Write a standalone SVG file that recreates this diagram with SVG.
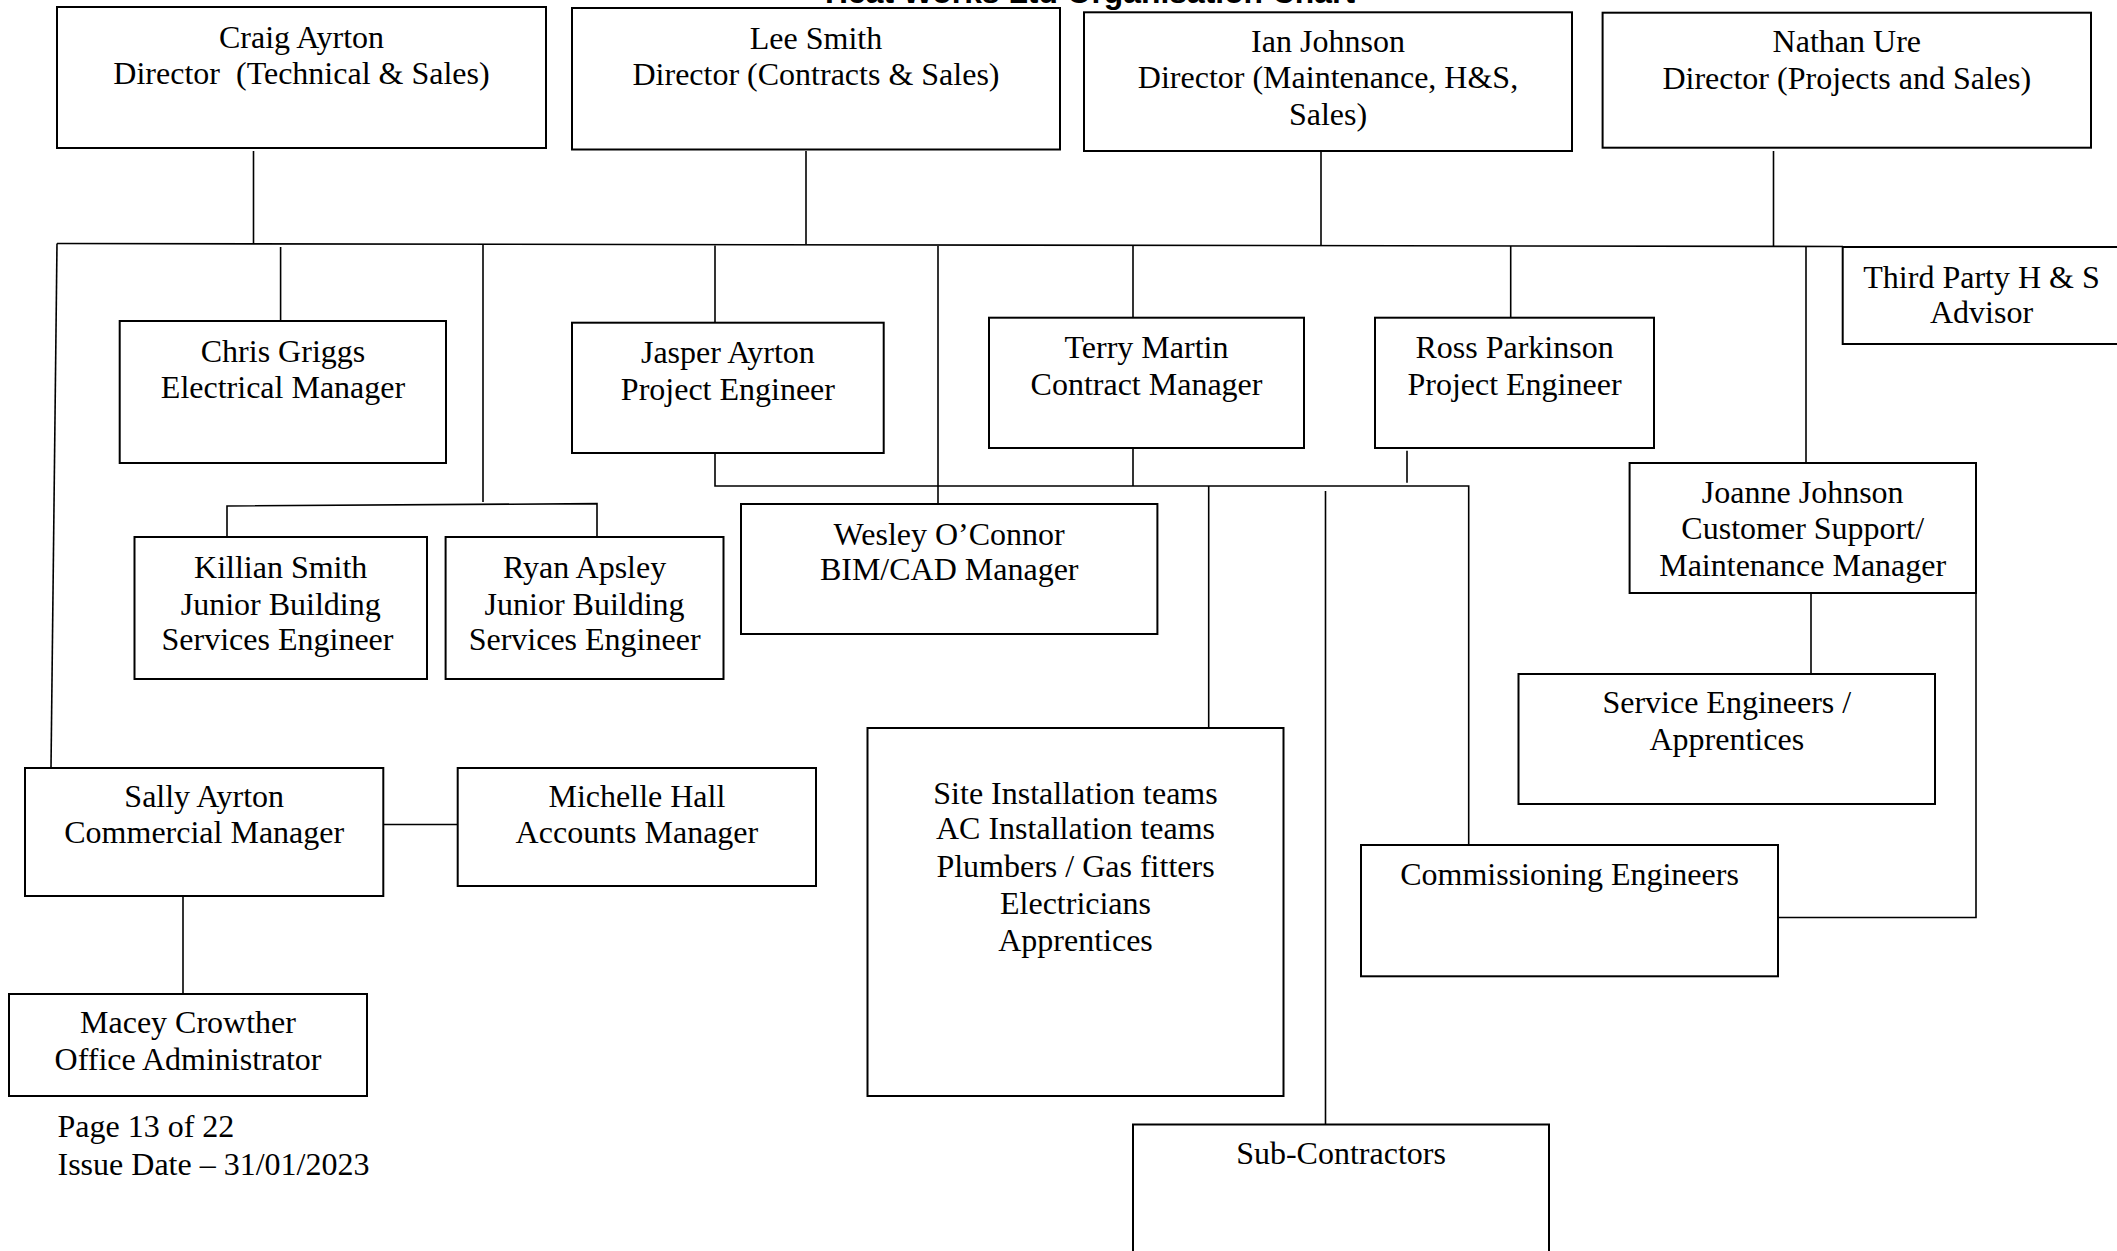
<svg xmlns="http://www.w3.org/2000/svg" width="2117" height="1251" viewBox="0 0 2117 1251">
<style>
.box{fill:#fff;stroke:#000;stroke-width:2}
.ln{fill:none;stroke:#000;stroke-width:1.6}
.t{font-family:"Liberation Serif","Times New Roman",serif;font-size:32px;text-anchor:middle;fill:#000}
.l{text-anchor:start}
.title{font-family:"Liberation Sans",Arial,sans-serif;font-weight:bold;font-size:32px;fill:#000}
</style>
<rect width="2117" height="1251" fill="#fff"/>
<text class="title" x="825" y="3" textLength="530" lengthAdjust="spacingAndGlyphs">Heat Works Ltd Organisation Chart</text>
<g id="connectors">
<path class="ln" d="M57,243.5 L1843,246.5"/>
<path class="ln" d="M57,243.5 L51,768"/>
<path class="ln" d="M253.5,151 V243"/>
<path class="ln" d="M806,151 V244"/>
<path class="ln" d="M1321,152 V245"/>
<path class="ln" d="M1773.5,151 V246"/>
<path class="ln" d="M280.6,247 V321"/>
<path class="ln" d="M483,245 V502"/>
<path class="ln" d="M227,537 V506 L597,503.6 V537"/>
<path class="ln" d="M715,245.5 V322.7"/>
<path class="ln" d="M715,453 V486 H1468.7 V845"/>
<path class="ln" d="M938,246 V504"/>
<path class="ln" d="M1133,246 V317.7"/>
<path class="ln" d="M1133,448 V486"/>
<path class="ln" d="M1510.7,246 V317.7"/>
<path class="ln" d="M1407,450.7 V482.7"/>
<path class="ln" d="M1208.7,486 V727.5"/>
<path class="ln" d="M1325.5,491 V1124.5"/>
<path class="ln" d="M1806,246.5 V463"/>
<path class="ln" d="M1811,593 V674"/>
<path class="ln" d="M1976,593 V917.5 H1778"/>
<path class="ln" d="M383,824.5 H458"/>
<path class="ln" d="M183,896 V994"/>
</g>
<g id="craig"><rect class="box" x="57" y="7" width="489" height="141"/>
<text class="t" x="301.5" y="47.5">Craig Ayrton</text>
<text class="t" x="301.5" y="84" xml:space="preserve">Director  (Technical &amp; Sales)</text></g>
<g id="lee"><rect class="box" x="572" y="8" width="488" height="141.5"/>
<text class="t" x="816" y="48.5">Lee Smith</text>
<text class="t" x="816" y="85">Director (Contracts &amp; Sales)</text></g>
<g id="ian"><rect class="box" x="1084" y="12.3" width="488" height="138.7"/>
<text class="t" x="1328" y="51.7">Ian Johnson</text>
<text class="t" x="1328" y="88.3">Director (Maintenance, H&amp;S,</text>
<text class="t" x="1328" y="125">Sales)</text></g>
<g id="nathan"><rect class="box" x="1602.6" y="12.7" width="488.4" height="135"/>
<text class="t" x="1846.8" y="52.3">Nathan Ure</text>
<text class="t" x="1846.8" y="89">Director (Projects and Sales)</text></g>
<g id="thirdparty"><rect class="box" x="1842.7" y="247" width="290" height="97"/>
<text class="t" x="1981.5" y="288">Third Party H &amp; S</text>
<text class="t" x="1981.5" y="323">Advisor</text></g>
<g id="chris"><rect class="box" x="119.7" y="321" width="326.3" height="142"/>
<text class="t" x="283" y="361.7">Chris Griggs</text>
<text class="t" x="283" y="398.3">Electrical Manager</text></g>
<g id="jasper"><rect class="box" x="572" y="322.7" width="311.7" height="130.3"/>
<text class="t" x="727.9" y="363.3">Jasper Ayrton</text>
<text class="t" x="727.9" y="400">Project Engineer</text></g>
<g id="terry"><rect class="box" x="989" y="317.7" width="315" height="130.3"/>
<text class="t" x="1146.5" y="358.3">Terry Martin</text>
<text class="t" x="1146.5" y="395">Contract Manager</text></g>
<g id="ross"><rect class="box" x="1375" y="317.7" width="279" height="130.3"/>
<text class="t" x="1514.5" y="358.3">Ross Parkinson</text>
<text class="t" x="1514.5" y="395">Project Engineer</text></g>
<g id="killian"><rect class="box" x="134.5" y="537" width="292.5" height="142"/>
<text class="t" x="280.7" y="577.7">Killian Smith</text>
<text class="t" x="280.7" y="614.5">Junior Building</text>
<text class="t" x="277.5" y="650.3">Services Engineer</text></g>
<g id="ryan"><rect class="box" x="445.6" y="537" width="277.9" height="142"/>
<text class="t" x="584.6" y="577.7">Ryan Apsley</text>
<text class="t" x="584.6" y="614.5">Junior Building</text>
<text class="t" x="584.6" y="650.3">Services Engineer</text></g>
<g id="wesley"><rect class="box" x="741" y="504" width="416.4" height="130"/>
<text class="t" x="949.2" y="544.5">Wesley O’Connor</text>
<text class="t" x="949.2" y="580.3">BIM/CAD Manager</text></g>
<g id="joanne"><rect class="box" x="1629.6" y="463" width="346.4" height="130"/>
<text class="t" x="1802.7" y="502.6">Joanne Johnson</text>
<text class="t" x="1802.7" y="539.4">Customer Support/</text>
<text class="t" x="1802.7" y="576.2">Maintenance Manager</text></g>
<g id="service"><rect class="box" x="1518.5" y="674" width="416.5" height="130"/>
<text class="t" x="1726.8" y="713">Service Engineers /</text>
<text class="t" x="1726.8" y="750">Apprentices</text></g>
<g id="site"><rect class="box" x="867.5" y="728" width="416" height="368"/>
<text class="t" x="1075.5" y="803.6">Site Installation teams</text>
<text class="t" x="1075.5" y="839.4">AC Installation teams</text>
<text class="t" x="1075.5" y="876.7">Plumbers / Gas fitters</text>
<text class="t" x="1075.5" y="913.5">Electricians</text>
<text class="t" x="1075.5" y="950.8">Apprentices</text></g>
<g id="commissioning"><rect class="box" x="1361" y="845" width="417" height="131.3"/>
<text class="t" x="1569.5" y="885.4">Commissioning Engineers</text></g>
<g id="subcontractors"><rect class="box" x="1133" y="1124.5" width="416" height="140"/>
<text class="t" x="1341" y="1164.3">Sub-Contractors</text></g>
<g id="sally"><rect class="box" x="25" y="768" width="358.3" height="128"/>
<text class="t" x="204.2" y="806.7">Sally Ayrton</text>
<text class="t" x="204.2" y="842.7">Commercial Manager</text></g>
<g id="michelle"><rect class="box" x="457.7" y="768" width="358.3" height="118"/>
<text class="t" x="636.9" y="806.7">Michelle Hall</text>
<text class="t" x="636.9" y="842.7">Accounts Manager</text></g>
<g id="macey"><rect class="box" x="9" y="994" width="358" height="102"/>
<text class="t" x="188" y="1033.3">Macey Crowther</text>
<text class="t" x="188" y="1069.8">Office Administrator</text></g>
<g id="footer">
<text class="t l" x="57.5" y="1137.3">Page 13 of 22</text>
<text class="t l" x="57.5" y="1174.6">Issue Date – 31/01/2023</text>
</g>
</svg>
